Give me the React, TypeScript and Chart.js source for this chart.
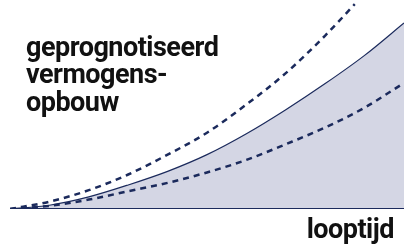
import React, { useEffect, useRef } from "react";
import { Chart, registerables } from "chart.js";

Chart.register(...registerables);

// time axis (relative term, 0..100)
const tValues = [0, 10, 20, 30, 40, 50, 60, 70, 80, 90, 100];
const tUpper = [0, 10, 20, 30, 40, 50, 60, 70, 80, 87.5];
// projected wealth (relative)
const expected = [0, 1.8, 5.8, 11.5, 18, 26, 36, 47.5, 60, 73.5, 89];
const optimistic = [0, 3.5, 9, 16.5, 26, 36.5, 50, 65, 83, 98];
const pessimistic = [0, 1.5, 4.5, 8.5, 12.5, 17.5, 23.5, 31, 39, 48.5, 60.3];
const baseline = [0, 0];
const baselineT = [0, 100];

const titleLines = ["geprognotiseerd", "vermogens-", "opbouw"];
const xLabel = "looptijd";

const NAVY = "#1b2a5c";
const FILL = "#d4d6e4";

const pts = (xs: number[], ys: number[]) => ys.map((y, i) => ({ x: xs[i], y }));

export default function App() {
  const ref = useRef<HTMLCanvasElement | null>(null);
  useEffect(() => {
    if (!ref.current) return;
    const chart = new Chart(ref.current, {
      type: "line",
      data: {
        datasets: [
          {
            data: pts(baselineT, baseline),
            borderColor: NAVY,
            borderWidth: 2,
            pointRadius: 0,
            fill: false,
          },
          {
            data: pts(tValues, expected),
            borderColor: NAVY,
            borderWidth: 1.2,
            backgroundColor: FILL,
            fill: "origin",
            pointRadius: 0,
            cubicInterpolationMode: "monotone",
          },
          {
            data: pts(tUpper, optimistic),
            borderColor: NAVY,
            borderWidth: 2.5,
            borderDash: [6, 5],
            pointRadius: 0,
            fill: false,
            cubicInterpolationMode: "monotone",
          },
          {
            data: pts(tValues, pessimistic),
            borderColor: NAVY,
            borderWidth: 2.5,
            borderDash: [6, 5],
            pointRadius: 0,
            fill: false,
            cubicInterpolationMode: "monotone",
          },
        ],
      },
      options: {
        animation: false,
        responsive: false,
        layout: { padding: { left: 10, right: 0, top: 0, bottom: 39 } },
        scales: {
          x: { type: "linear", min: 0, max: 100, display: false },
          y: { min: 0, max: 100, display: false },
        },
        plugins: {
          legend: { display: false },
          tooltip: { enabled: false },
          filler: { drawTime: "beforeDatasetsDraw" },
        },
      },
    });
    return () => chart.destroy();
  }, []);

  const textStyle: React.CSSProperties = {
    position: "absolute",
    fontFamily: "Roboto, sans-serif",
    fontWeight: 700,
    fontSize: 27,
    letterSpacing: "-0.5px",
    lineHeight: "27.5px",
    color: "#111",
    whiteSpace: "nowrap",
  };

  return (
    <div style={{ position: "absolute", left: 0, top: 0, width: 404, height: 248, background: "#fff", overflow: "hidden" }}>
      <canvas ref={ref} width={404} height={248} style={{ position: "absolute", left: 0, top: 0 }} />
      <div style={{ ...textStyle, left: 26, top: 33.7 }}>
        {titleLines.map((l, i) => (
          <div key={i}>{l}</div>
        ))}
      </div>
      <div style={{ ...textStyle, right: 10, top: 216.3 }}>{xLabel}</div>
    </div>
  );
}
